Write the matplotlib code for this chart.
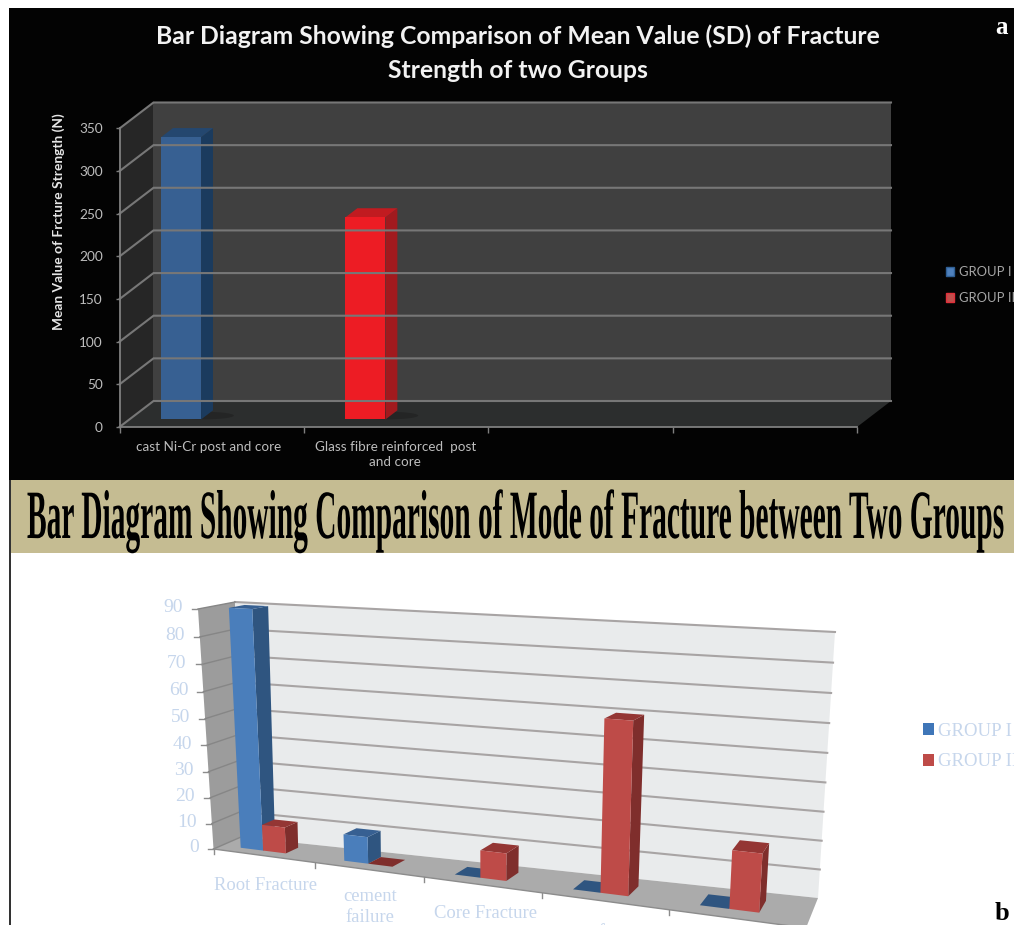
import numpy as np
import matplotlib
matplotlib.use('Agg')
import matplotlib.pyplot as plt
from matplotlib.patches import Polygon, Rectangle, Ellipse, Patch
from matplotlib.patheffects import AbstractPathEffect
from matplotlib.transforms import Affine2D

W, H = 1014, 925

# upper chart
strength_title = 'Bar Diagram Showing Comparison of Mean Value (SD) of Fracture\nStrength of two Groups'
strength_ylabel = 'Mean Value of Frcture Strength (N)'
strength_labels = ['cast Ni-Cr post and core', 'Glass fibre reinforced  post\nand core']
strength_ticks = [0, 50, 100, 150, 200, 250, 300, 350]
strength_values = [331, 237]

# lower chart
mode_title = 'Bar Diagram Showing Comparison of Mode of Fracture between Two Groups'
mode_labels = ['Root Fracture', 'cement\nfailure', 'Core Fracture', 'post fracture']
mode_ticks = [0, 10, 20, 30, 40, 50, 60, 70, 80, 90]
group1 = [90, 10, 0, 0, 0]
group2 = [10, 0, 10, 60, 20]
group_names = ['GROUP I', 'GROUP II']


class Tall(AbstractPathEffect):
    # stretch text upward from its baseline, agg has no condensed face to offer
    def __init__(self, y0, sy):
        super().__init__()
        self.y0, self.sy = y0, sy

    def draw_path(self, renderer, gc, tpath, affine, rgbFace=None):
        stretch = Affine2D().translate(0, -self.y0).scale(1, self.sy).translate(0, self.y0)
        renderer.draw_path(gc, tpath, affine + stretch, rgbFace)


def axes_px(fig, left, top, right, bottom):
    return fig.add_axes([left / W, 1 - bottom / H, (right - left) / W, (bottom - top) / H])


fig = plt.figure(figsize=(W / 100, H / 100), dpi=100, facecolor='white')

# page furniture in pixels
bg = fig.add_axes([0, 0, 1, 1])
bg.set_xlim(0, W)
bg.set_ylim(H, 0)
bg.axis('off')
bg.add_patch(Rectangle((9, 8), W - 9, 472, fc='#030303', ec='none'))
bg.add_patch(Rectangle((9, 480), 2, H - 480, fc='#333333', ec='none'))
bg.add_patch(Rectangle((11, 480), W - 11, 73, fc='#C5BC92', ec='none'))

fig.text(518 / W, 1 - 53 / H, strength_title, color='#F2F2F2', ha='center', va='center',
         family='Lato', weight='bold', fontsize=17.8, linespacing=1.57)
fig.text(1002 / W, 1 - 28 / H, 'a', color='white', ha='center', va='center',
         family='Liberation Serif', weight='bold', fontsize=18)
fig.text(1002 / W, 1 - 920 / H, 'b', color='black', ha='center', va='baseline',
         family='Liberation Serif', weight='bold', fontsize=19)
fig.text(27 / W, 1 - 538 / H, mode_title, color='black', ha='left', va='baseline',
         family='Liberation Serif', weight='bold', fontsize=21.2,
         path_effects=[Tall(H - 538, 2.35)])

# ---- upper chart: oblique box on a normal axes ----
ax = axes_px(fig, 119.5, 128.5, 857, 427)
ax.set_xlim(0, 4)
ax.set_ylim(0, 350)
ax.patch.set_alpha(0)
for s in ['top', 'right']:
    ax.spines[s].set_visible(False)
for s in ['left', 'bottom']:
    ax.spines[s].set_color('#7F7F7F')
    ax.spines[s].set_linewidth(1.3)

dx = 34 / 184.4   # depth offset in category units
dy = 26 * 350 / 298.5  # depth offset in value units


def box_pt(c, v, d):
    return (c + d * dx, v + d * dy)


ax.add_patch(Polygon([box_pt(0, 0, 0), box_pt(0, 350, 0), box_pt(0, 350, 1), box_pt(0, 0, 1)],
                     fc='#262626', ec='none', clip_on=False))
ax.add_patch(Polygon([box_pt(0, 0, 1), box_pt(4, 0, 1), box_pt(4, 350, 1), box_pt(0, 350, 1)],
                     fc='#404040', ec='none', clip_on=False))
ax.add_patch(Polygon([box_pt(0, 0, 0), box_pt(4, 0, 0), box_pt(4, 0, 1), box_pt(0, 0, 1)],
                     fc='#2C2E2E', ec='none', clip_on=False))
for v in strength_ticks:
    a, b, e = box_pt(0, v, 0), box_pt(0, v, 1), box_pt(4, v, 1)
    ax.plot([a[0], b[0], e[0]], [a[1], b[1], e[1]], color='#777777', lw=1.5, clip_on=False,
            solid_joinstyle='miter')

bar_faces = [('#376092', '#1B3B5E', '#24476F'), ('#ED1C24', '#A11A1E', '#C11B20')]
for i, v in enumerate(strength_values):
    c0, c1 = i + 0.172, i + 0.389
    d0, d1 = 0.29, 0.64
    ax.add_patch(Ellipse(box_pt(c1 - 0.02, 0, d0 + 0.15), 0.34, 9, fc='#1E1E1E', ec='none',
                         alpha=0.55, clip_on=False))
    front, side, top = bar_faces[i]
    ax.add_patch(Polygon([box_pt(c1, 0, d0), box_pt(c1, 0, d1), box_pt(c1, v, d1), box_pt(c1, v, d0)],
                         fc=side, ec='none', clip_on=False))
    ax.add_patch(Polygon([box_pt(c0, v, d0), box_pt(c1, v, d0), box_pt(c1, v, d1), box_pt(c0, v, d1)],
                         fc=top, ec='none', clip_on=False))
    ax.add_patch(Polygon([box_pt(c0, 0, d0), box_pt(c1, 0, d0), box_pt(c1, v, d0), box_pt(c0, v, d0)],
                         fc=front, ec='none', clip_on=False))

ax.set_yticks(strength_ticks)
ax.tick_params(axis='y', colors='#BDBDBD', labelsize=9.8, length=3, width=1, pad=9, color='#7F7F7F')
ax.set_xticks(range(5))
ax.set_xticklabels([])
ax.tick_params(axis='x', length=4, width=1, color='#7F7F7F')
for lab in ax.get_yticklabels():
    lab.set_family('Lato')
ax.set_xticks([0.485, 1.495], labels=strength_labels, minor=True)
ax.tick_params(axis='x', which='minor', length=0, colors='#BDBDBD', labelsize=9.7, pad=10)
for lab in ax.get_xticklabels(minor=True):
    lab.set_family('Lato')
    lab.set_linespacing(1.35)
ax.set_ylabel(strength_ylabel, color='#E6E6E6', family='Lato', weight='bold', fontsize=9.9)
ax.yaxis.set_label_coords((65 - 119.5) / (857 - 119.5), 0.687)

handles = [Patch(fc='#4F81BD', ec='#2F5F95'), Patch(fc='#C0504D', ec='#E0303A')]
leg = fig.legend(handles, group_names, loc='upper left', bbox_to_anchor=(946 / W, 1 - 266 / H),
                 frameon=False, labelcolor='#A6A6A6', handlelength=0.6, handleheight=0.6,
                 handletextpad=0.4, labelspacing=1.08, borderpad=0, borderaxespad=0,
                 prop={'family': 'Lato', 'size': 9.4})

# ---- lower chart: perspective box, corners in (category, value) space ----
front_corners = np.array([[213.5, 849], [806, 928], [825, 640], [198, 609]], dtype=float)
back_corners = np.array([[241, 837], [818, 898], [835, 632], [235, 602]], dtype=float)


def homography(dst):
    src = np.array([[0, 0], [5, 0], [5, 90], [0, 90]], dtype=float)
    rows, rhs = [], []
    for (u, v), (x, y) in zip(src, dst):
        rows.append([u, v, 1, 0, 0, 0, -u * x, -v * x])
        rows.append([0, 0, 0, u, v, 1, -u * y, -v * y])
        rhs += [x, y]
    return np.append(np.linalg.solve(np.array(rows), np.array(rhs)), 1).reshape(3, 3)


H_front, H_back = homography(front_corners), homography(back_corners)


def project(c, v, d=0.0):
    p = H_front @ [c, v, 1]
    q = H_back @ [c, v, 1]
    return (1 - d) * p[:2] / p[2] + d * q[:2] / q[2]


mode = fig.add_axes([0, 0, 1, 1])
mode.set_xlim(0, W)
mode.set_ylim(H, 0)
mode.axis('off')
mode.patch.set_alpha(0)


def face(pts, color, z=1):
    mode.add_patch(Polygon([project(*p) for p in pts], fc=color, ec='none', zorder=z))


face([(0, 0, 0), (0, 90, 0), (0, 90, 1), (0, 0, 1)], '#9C9C9C')
face([(0, 0, 1), (5, 0, 1), (5, 90, 1), (0, 90, 1)], '#E9EBEC')
face([(0, 0, 0), (5, 0, 0), (5, 0, 1), (0, 0, 1)], '#ABABAB')

serif = 'Liberation Serif'
pale = '#C6D6EC'
for v in mode_ticks:
    pts = np.array([project(0, v, 1), project(5, v, 1)])
    if v > 0:
        mode.plot(pts[:, 0], pts[:, 1], color='#A8A4A4', lw=1.5, zorder=2)
    side = np.array([project(0, v, 0), project(0, v, 1)])
    mode.plot(side[:, 0], side[:, 1], color='#868686', lw=1, zorder=2)
    tick = project(0, v, 0)
    mode.plot([tick[0] - 6, tick[0]], [tick[1], tick[1]], color='#8C8C8C', lw=1, zorder=2)
    mode.text(tick[0] - 15, tick[1] - 1, str(v), color=pale, family=serif, fontsize=14,
              ha='right', va='center')

for c in range(6):
    p = project(c, 0, 0)
    mode.plot([p[0], p[0]], [p[1], p[1] + 5], color='#8C8C8C', lw=1, zorder=2, clip_on=True)
base = np.array([project(0, 0, 0), project(5, 0, 0)])
mode.plot(base[:, 0], base[:, 1], color='#8C8C8C', lw=1, zorder=2)

label_y = [886, 907, 914, 932]
label_x = [265, 370, 486, 610]
for x, y, lab in zip(label_x, label_y, mode_labels):
    mode.text(x, y, lab, color=pale, family=serif, fontsize=13.4, ha='center', va='center',
              linespacing=1.25, clip_on=True)

colors = {0: ('#4A7EBB', '#2F5580', '#376092'), 1: ('#BE4B48', '#7F2E2C', '#943634')}
d0, d1 = 0.3, 0.72
z = 3
for i in range(5):
    for g, vals in enumerate([group1, group2]):
        c0 = i + 0.19 + g * 0.222
        c1 = c0 + 0.222
        v = vals[i]
        front, side, top = colors[g]
        face([(c1, 0, d0), (c1, 0, d1), (c1, v, d1), (c1, v, d0)], side, z)
        face([(c0, v, d0), (c1, v, d0), (c1, v, d1), (c0, v, d1)], top if v > 0 else side, z)
        if v > 0:
            face([(c0, 0, d0), (c1, 0, d0), (c1, v, d0), (c0, v, d0)], front, z)
        z += 1

handles = [Patch(fc='#3F76B8', ec='none'), Patch(fc='#BE4B48', ec='none')]
fig.legend(handles, group_names, loc='upper left', bbox_to_anchor=(923 / W, 1 - 723 / H),
           frameon=False, labelcolor=pale, handlelength=0.6, handleheight=0.6,
           handletextpad=0.2, labelspacing=0.72, borderpad=0, borderaxespad=0,
           prop={'family': serif, 'size': 13.5})

plt.savefig('out.png', dpi=100)
